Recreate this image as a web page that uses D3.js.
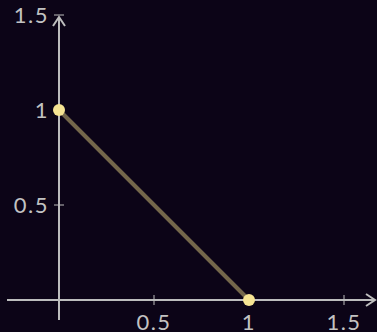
<!DOCTYPE html>
<html><head><meta charset="utf-8">
<script src="https://cdn.jsdelivr.net/npm/d3@7"></script>
<style>html,body{margin:0;padding:0;background:#0c0417;}svg{display:block;}</style>
</head><body>
<svg id="c" width="377" height="332"></svg>
<script>
const xs = [0, 1];
const ys = [1, 0];
const xTicks = [0.5, 1, 1.5];
const yTicks = [0.5, 1, 1.5];
const xTickLabels = ["0.5", "1", "1.5"];
const yTickLabels = ["0.5", "1", "1.5"];

const svg = d3.select("#c");
const W = 377, H = 332;
svg.append("rect").attr("width", W).attr("height", H).attr("fill", "#0c0417");
const x = d3.scaleLinear().domain([0, 1.5]).range([59, 344]);
const y = d3.scaleLinear().domain([0, 1.5]).range([300, 15]);
const axisColor = "#bdbdbd";
const textColor = "#c2c2c2";
const font = "Lato, sans-serif";

const g = svg.append("g");
// x axis line
g.append("line").attr("x1", 7).attr("x2", 375).attr("y1", y(0)).attr("y2", y(0))
  .attr("stroke", axisColor).attr("stroke-width", 2);
g.append("path").attr("d", `M${375-9},${y(0)-6} L375,${y(0)} L${375-9},${y(0)+6}`)
  .attr("fill", "none").attr("stroke", axisColor).attr("stroke-width", 2);
// y axis line
g.append("line").attr("x1", x(0)).attr("x2", x(0)).attr("y1", 17).attr("y2", 320)
  .attr("stroke", axisColor).attr("stroke-width", 2);
g.append("path").attr("d", `M${x(0)-6},${17+9} L${x(0)},17 L${x(0)+6},${17+9}`)
  .attr("fill", "none").attr("stroke", axisColor).attr("stroke-width", 2);

// ticks
g.selectAll(".xt").data(xTicks).enter().append("line")
  .attr("x1", d => x(d)).attr("x2", d => x(d)).attr("y1", y(0) - 5).attr("y2", y(0) + 5)
  .attr("stroke", axisColor).attr("stroke-width", 1);
g.selectAll(".yt").data(yTicks).enter().append("line")
  .attr("y1", d => y(d)).attr("y2", d => y(d)).attr("x1", x(0) - 5).attr("x2", x(0) + 5)
  .attr("stroke", axisColor).attr("stroke-width", 1);

// labels
g.selectAll(".xl").data(xTicks).enter().append("text")
  .attr("x", d => x(d)).attr("y", 330).attr("text-anchor", "middle")
  .attr("fill", textColor).attr("font-family", font).attr("font-size", 22)
  .attr("letter-spacing", 1.5)
  .text((d, i) => xTickLabels[i]);
g.selectAll(".yl").data(yTicks).enter().append("text")
  .attr("x", 49).attr("y", d => y(d)).attr("dy", "0.36em").attr("text-anchor", "end")
  .attr("fill", textColor).attr("font-family", font).attr("font-size", 22)
  .attr("letter-spacing", 1.5)
  .text((d, i) => yTickLabels[i]);

// line
const pts = xs.map((v, i) => [v, ys[i]]);
g.append("path").datum(pts)
  .attr("d", d3.line().x(d => x(d[0])).y(d => y(d[1])))
  .attr("fill", "none").attr("stroke", "#f3e08c").attr("stroke-opacity", 0.45).attr("stroke-width", 4);
g.selectAll(".pt").data(pts).enter().append("circle")
  .attr("cx", d => x(d[0])).attr("cy", d => y(d[1])).attr("r", 6)
  .attr("fill", "#f6e493");
</script>
</body></html>
